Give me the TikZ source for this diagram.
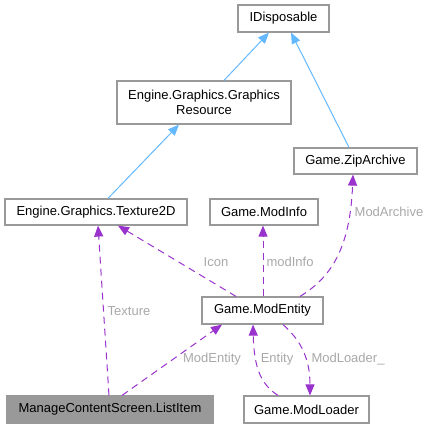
\documentclass[tikz,border=0pt]{standalone}
\usepackage{fontspec}
\setmainfont{Liberation Sans}
\usetikzlibrary{arrows.meta}
\definecolor{boxline}{HTML}{999999}
\definecolor{inh}{HTML}{63B8FF}
\definecolor{usage}{HTML}{9A32CD}
\definecolor{lbl}{HTML}{A8A8A8}
\definecolor{grayfill}{HTML}{999999}
\begin{document}
\begin{tikzpicture}[x=1pt,y=-1pt,
  cls/.style={draw=boxline,line width=1.2pt,fill=white,rectangle,inner sep=0pt,font=\fontsize{13}{15.5}\selectfont,align=center},
  inhedge/.style={draw=inh,line width=1pt,-{Triangle[length=11pt,width=9pt,fill=inh]}},
  useedge/.style={draw=usage,line width=1pt,dash pattern=on 7pt off 5pt,-{Triangle[length=11pt,width=9pt,fill=usage]}},
  elabel/.style={text=lbl,font=\fontsize{13}{15.5}\selectfont,inner sep=0pt}]
\useasboundingbox (0,0) rectangle (435,428);
\node[cls,minimum width=91pt,minimum height=27pt] (id) at (283.5,18.5) {IDisposable};
\node[cls,minimum width=174pt,minimum height=43pt] (gr) at (204,102.5) {Engine.Graphics.Graphics\\Resource};
\node[cls,minimum width=123pt,minimum height=26pt] (zip) at (355.5,161) {Game.ZipArchive};
\node[cls,minimum width=182pt,minimum height=26pt] (tex) at (96,212) {Engine.Graphics.Texture2D};
\node[cls,minimum width=108pt,minimum height=26pt] (mi) at (264,212) {Game.ModInfo};
\node[cls,minimum width=121pt,minimum height=27pt] (me) at (262.5,310.5) {Game.ModEntity};
\node[cls,fill=grayfill,minimum width=206pt,minimum height=27pt] (li) at (110,409.5) {ManageContentScreen.ListItem};
\node[cls,minimum width=125pt,minimum height=27pt] (ml) at (306.5,409.5) {Game.ModLoader};

\draw[inhedge] ([xshift=20pt]gr.north) -- ([xshift=-14.5pt]id.south);
\draw[inhedge] ([xshift=-6.5pt]zip.north) -- ([xshift=7.5pt]id.south);
\draw[inhedge] ([xshift=12pt]tex.north) -- ([xshift=-25pt]gr.south);

\draw[useedge] ([xshift=-1pt]li.north) -- ([xshift=2pt]tex.south);
\node[elabel] (lt) at (129,311) {Texture};
\draw[useedge] ([xshift=-26.5pt]me.north) -- ([xshift=22pt]tex.south);
\node[elabel] (lic) at (216,262) {Icon};
\draw[useedge] ([xshift=0.5pt]me.north) -- ([xshift=-1pt]mi.south);
\node[elabel] (lmi) at (290,262) {modInfo};
\draw[useedge] ([xshift=37.5pt]me.north) .. controls (330,278) and (350,250) .. ([xshift=-2.5pt]zip.south);
\node[elabel] (lma) at (389,212) {ModArchive};
\draw[useedge] ([xshift=12pt]li.north) -- ([xshift=-40.5pt]me.south);
\node[elabel] (lme) at (212,359) {ModEntity};
\draw[useedge] ([xshift=-28.5pt]ml.north) .. controls (262,385) and (254,370) .. ([xshift=-9.5pt]me.south);
\node[elabel] (len) at (277,359) {Entity};
\draw[useedge] ([xshift=20.5pt]me.south) .. controls (298,338) and (310,355) .. ([xshift=3.5pt]ml.north);
\node[elabel] (lml) at (348,359) {ModLoader\_};
\end{tikzpicture}
\end{document}
